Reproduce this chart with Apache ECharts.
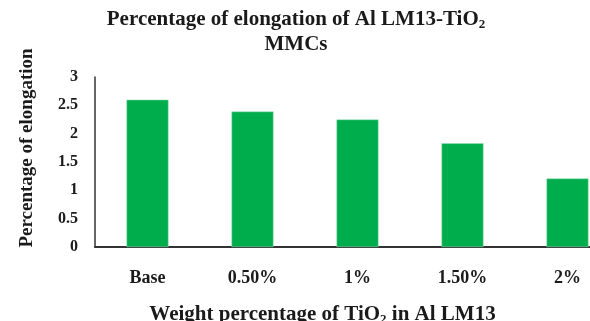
<!DOCTYPE html>
<html>
<head>
<meta charset="utf-8">
<script src="https://cdn.jsdelivr.net/npm/echarts@6/dist/echarts.min.js"></script>
<style>
  html, body { margin: 0; padding: 0; background: #fff; }
  #chart { width: 590px; height: 321px; }
</style>
</head>
<body>
<div id="chart"></div>
<script>
// Elongation (%) of Al LM13 with increasing TiO2 content
const categories = ['Base', '0.50%', '1%', '1.50%', '2%'];
const elongation = [2.60, 2.39, 2.25, 1.83, 1.21];
const yTicks = { min: 0, max: 3, interval: 0.5 };

const serif = '"Liberation Serif", "Times New Roman", serif';
const chart = echarts.init(document.getElementById('chart'));

chart.setOption({
  animation: false,
  backgroundColor: '#ffffff',
  title: {
    text: '{t|Percentage of elongation of Al LM13-TiO}{s|2}\n{t|MMCs}',
    left: 291,
    top: 2,
    textAlign: 'center',
    textStyle: {
      rich: {
        t: { fontFamily: serif, fontWeight: 'bold', fontSize: 21, color: '#1a1a1a', lineHeight: 25 },
        s: { fontFamily: serif, fontWeight: 'bold', fontSize: 13, color: '#1a1a1a', lineHeight: 25, padding: [10, 0, 0, 0] }
      }
    }
  },
  // plot area runs past the right edge of the page
  grid: { left: 95, width: 525, top: 77, bottom: 74, outerBoundsMode: 'none', containLabel: false },
  xAxis: {
    type: 'category',
    data: categories,
    axisLine: { show: true, lineStyle: { color: '#333', width: 2 } },
    axisTick: { show: false },
    axisLabel: {
      margin: 22,
      fontFamily: serif,
      fontWeight: 'bold',
      fontSize: 18,
      color: '#1a1a1a'
    },
    name: '{t|Weight percentage of TiO}{s|2}{t| in Al LM13}',
    nameLocation: 'middle',
    nameGap: 56,
    nameTextStyle: {
      padding: [0, 70, 0, 0],
      rich: {
        t: { fontFamily: serif, fontWeight: 'bold', fontSize: 21, color: '#1a1a1a' },
        s: { fontFamily: serif, fontWeight: 'bold', fontSize: 13, color: '#1a1a1a', padding: [10, 0, 0, 0] }
      }
    }
  },
  yAxis: {
    type: 'value',
    min: yTicks.min,
    max: yTicks.max,
    interval: yTicks.interval,
    splitLine: { show: false },
    axisLine: { show: true, lineStyle: { color: '#333', width: 1.5 } },
    axisTick: { show: false },
    axisLabel: {
      margin: 17,
      fontFamily: serif,
      fontWeight: 'bold',
      fontSize: 16,
      color: '#1a1a1a'
    },
    name: 'Percentage of elongation',
    nameLocation: 'middle',
    nameGap: 58,
    nameTextStyle: {
      fontFamily: serif,
      fontWeight: 'bold',
      fontSize: 19,
      color: '#1a1a1a',
      padding: [0, 0, 0, 28]
    }
  },
  series: [{
    type: 'bar',
    data: elongation,
    barWidth: '40%',
    itemStyle: { color: '#00AD4D', borderColor: '#9fe0b8', borderWidth: 0.5 }
  }]
});
</script>
</body>
</html>
